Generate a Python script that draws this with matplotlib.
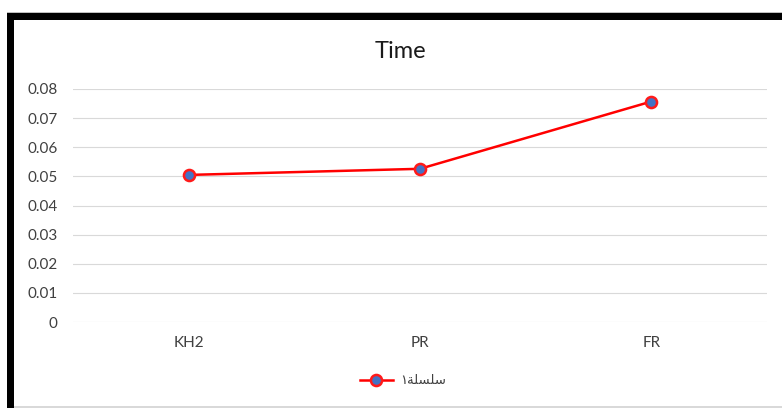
import matplotlib
matplotlib.use("Agg")
import matplotlib.pyplot as plt
from matplotlib.patches import Rectangle

categories = ["KH2", "PR", "FR"]
values = [0.0505, 0.0526, 0.0757]
yticks = [0, 0.01, 0.02, 0.03, 0.04, 0.05, 0.06, 0.07, 0.08]
title = "Time"
# Arabic "سلسلة١" in shaped presentation forms, visual (left-to-right) order
series_name = "\u0661\uFE94\uFEE0\uFEB4\uFEE0\uFEB3"

W, H = 782, 408
fig = plt.figure(figsize=(W / 100, H / 100), dpi=100)
fig.patch.set_facecolor("white")

font = ["Lato", "DejaVu Sans"]

# axes: plot area from x=73..767, y (0.08 at 89, 0 at 322)
ax = fig.add_axes([73 / W, 1 - 322 / H, (767 - 73) / W, (322 - 89) / H])
ax.set_xlim(-0.5, len(categories) - 0.5)
ax.set_ylim(0, 0.08)
ax.set_yticks(yticks)
ax.set_yticklabels(["0" if v == 0 else f"{v:.2f}" for v in yticks],
                   fontsize=11, color="#404040", family=font)
ax.set_xticks(range(len(categories)))
ax.set_xticklabels(categories, fontsize=11, color="#404040", family=font)
ax.tick_params(axis="both", length=0)
ax.tick_params(axis="y", pad=11)
ax.tick_params(axis="x", pad=10)
for s in ax.spines.values():
    s.set_visible(False)
ax.grid(axis="y", color="#d9d9d9", linewidth=0.8)
ax.set_axisbelow(True)

line, = ax.plot(range(len(categories)), values, color="#ff0000", linewidth=1.8,
                marker="o", markersize=8, markerfacecolor="#4472c4",
                markeredgecolor="#ff1a1a", markeredgewidth=1.8,
                label=series_name, clip_on=False)

fig.text(400 / W, 1 - 51 / H, title, ha="center", va="center",
         fontsize=17, color="#1a1a1a", family=font)

leg = fig.legend(handles=[line], loc="center", bbox_to_anchor=(403 / W, 1 - 381 / H),
                 frameon=False, handlelength=2.5, handletextpad=0.6,
                 prop={"family": "DejaVu Sans", "size": 9.5})
for t in leg.get_texts():
    t.set_color("#404040")

# border decorations
def rect(x0, y0, x1, y1, color):
    fig.patches.append(Rectangle((x0 / W, 1 - y1 / H), (x1 - x0) / W, (y1 - y0) / H,
                                 transform=fig.transFigure, facecolor=color,
                                 edgecolor="none", zorder=10))

rect(7, 12, W, 13, "#bfbfbf")
rect(7, 13, W, 19.5, "black")
rect(7, 13, 14, H, "black")
rect(14, 406, W, 408, "#d9d9d9")

fig.savefig("out.png", dpi=100, facecolor="white")
